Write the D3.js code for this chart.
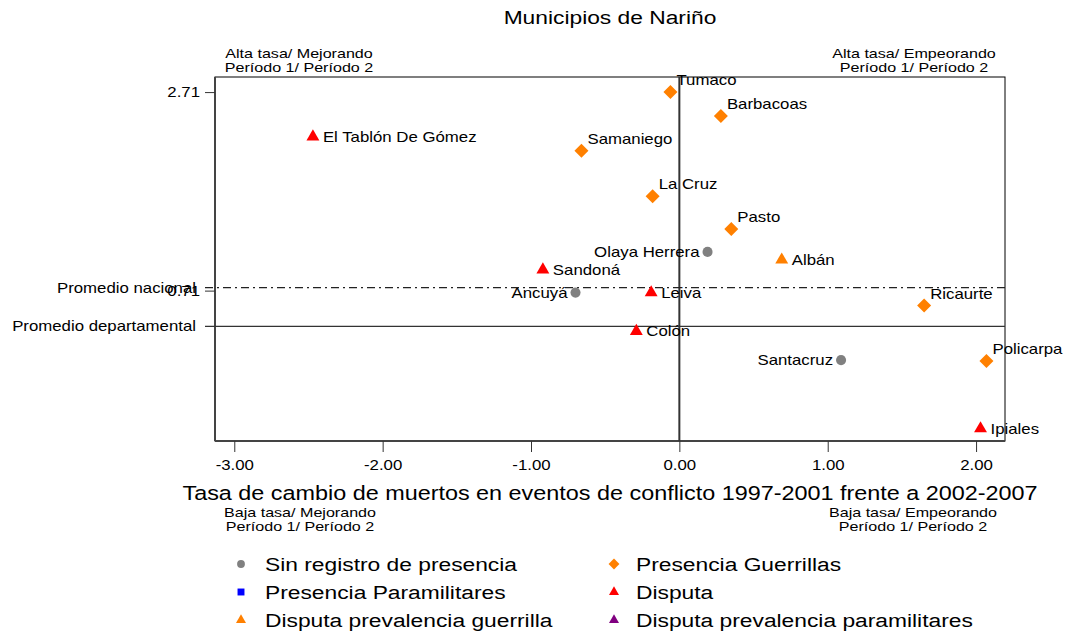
<!DOCTYPE html>
<html>
<head>
<meta charset="utf-8">
<title>Municipios de Nariño</title>
<style>
  body { margin: 0; background: #fff; }
  text { font-family: "Liberation Sans", Arial, sans-serif; fill: #000; }
</style>
</head>
<body>
<div id="chart"></div>
<script src="https://cdn.jsdelivr.net/npm/d3@7/dist/d3.min.js"></script>
<script>
// datos
var municipios = ['Tumaco', 'Barbacoas', 'El Tablón De Gómez', 'Samaniego', 'La Cruz', 'Pasto',
  'Olaya Herrera', 'Albán', 'Sandoná', 'Ancuyá', 'Leiva', 'Ricaurte', 'Colón', 'Santacruz',
  'Policarpa', 'Ipiales'];
var tasaCambio = [-0.06, 0.28, -2.47, -0.66, -0.18, 0.35, 0.19, 0.69, -0.92, -0.70, -0.19, 1.65, -0.29, 1.09, 2.07, 2.03];
var tasaMuertos = [2.71, 2.47, 2.26, 2.12, 1.66, 1.33, 1.10, 1.02, 0.92, 0.69, 0.69, 0.56, 0.30, 0.01, 0.00, -0.68];
var grupo = ['guerrilla', 'guerrilla', 'disputa', 'guerrilla', 'guerrilla', 'guerrilla', 'sin', 'dispGuerr',
  'disputa', 'sin', 'disputa', 'guerrilla', 'disputa', 'sin', 'guerrilla', 'disputa'];
// posicion de la etiqueta: ne = arriba derecha, e = derecha, w = izquierda
var posEtiqueta = ['ne', 'ne', 'e', 'ne', 'ne', 'ne', 'w', 'e', 'e', 'w', 'e', 'ne', 'e', 'w', 'ne', 'e'];

var xTicks = [-3, -2, -1, 0, 1, 2];
var yTicks = [2.71, 0.71];
var promedioNacional = 0.74, promedioDepartamental = 0.35;

var grupos = ['sin', 'guerrilla', 'para', 'disputa', 'dispGuerr', 'dispPara'];
var grupoNombres = ['Sin registro de presencia', 'Presencia Guerrillas', 'Presencia Paramilitares',
  'Disputa', 'Disputa prevalencia guerrilla', 'Disputa prevalencia paramilitares'];
var grupoColores = ['#808080', '#ff8000', '#0000ff', '#ff0000', '#ff8000', '#800080'];
var grupoFormas = ['circle', 'diamond', 'square', 'triangle', 'triangle', 'triangle'];

var W = 1066, H = 633;
var mLeft = 215, mRight = 1005, mTop = 77, mBottom = 441;
var SX = 1.2; // el texto del original esta estirado a lo ancho

var svg = d3.select('#chart').append('svg')
  .attr('width', W).attr('height', H);

var x = d3.scaleLinear().domain([-3.13, 2.195]).range([mLeft, mRight]);
var y = d3.scaleLinear().domain([-0.805, 2.862]).range([mBottom, mTop]);

var color = d3.scaleOrdinal().domain(grupos).range(grupoColores);
var forma = d3.scaleOrdinal().domain(grupos).range(grupoFormas);
var fmt = d => d3.format('.2f')(d).replace('−', '-');

function txt(parent, tx, ty, str, size, anchor) {
  return parent.append('text')
    .attr('transform', 'translate(' + tx + ',' + ty + ') scale(' + SX + ',1)')
    .attr('text-anchor', anchor || 'start')
    .style('font-size', size + 'px')
    .text(str);
}

function marker(sel, shape, k) {
  k = k || 1;
  if (shape == 'circle') {
    sel.attr('d', d3.symbol().type(d3.symbolCircle).size(80 * k));
  } else if (shape == 'diamond') {
    sel.attr('d', d3.symbol().type(d3.symbolSquare).size(98 * k)).attr('transform', 'rotate(45)');
  } else if (shape == 'square') {
    sel.attr('d', d3.symbol().type(d3.symbolSquare).size(80 * k));
  } else {
    sel.attr('d', d3.symbol().type(d3.symbolTriangle).size(72 * k));
  }
}

// titulo
txt(svg, 610, 24, 'Municipios de Nariño', 19, 'middle');

// marco
svg.append('rect').attr('x', mLeft).attr('y', mTop)
  .attr('width', mRight - mLeft).attr('height', mBottom - mTop)
  .attr('fill', 'none').attr('stroke', '#000').attr('stroke-width', 1);

// eje x
var xAxis = svg.append('g').attr('transform', 'translate(0,' + mBottom + ')')
  .call(d3.axisBottom(x).tickValues(xTicks).tickFormat(fmt).tickSize(11).tickPadding(8));
xAxis.select('.domain').attr('stroke', '#444').attr('stroke-width', 2).attr('d', 'M' + mLeft + ',0H' + mRight);
xAxis.selectAll('.tick line').attr('stroke', '#333');
xAxis.selectAll('.tick text').style('font-size', '14px').attr('fill', '#000')
  .style('font-family', '"Liberation Sans", Arial, sans-serif')
  .attr('transform', 'scale(' + SX + ',1)');

// eje y
var yAxis = svg.append('g').attr('transform', 'translate(' + mLeft + ',0)')
  .call(d3.axisLeft(y).tickValues(yTicks).tickFormat(fmt).tickSize(10).tickPadding(6));
yAxis.select('.domain').attr('stroke', '#444').attr('stroke-width', 2).attr('d', 'M0,' + mTop + 'V' + mBottom);
yAxis.selectAll('.tick line').attr('stroke', '#333');
yAxis.selectAll('.tick text').style('font-size', '14px').attr('fill', '#000')
  .style('font-family', '"Liberation Sans", Arial, sans-serif')
  .attr('x', -15 / SX)
  .attr('transform', 'scale(' + SX + ',1)');

// linea vertical en cero
svg.append('line')
  .attr('x1', x(0)).attr('x2', x(0)).attr('y1', mTop).attr('y2', mBottom)
  .attr('stroke', '#333').attr('stroke-width', 2);

// promedios
svg.append('line')
  .attr('x1', mLeft - 10).attr('x2', mRight).attr('y1', y(promedioNacional)).attr('y2', y(promedioNacional))
  .attr('stroke', '#222').attr('stroke-width', 1.3).attr('stroke-dasharray', '8,4,2,4');
svg.append('line')
  .attr('x1', mLeft - 10).attr('x2', mRight).attr('y1', y(promedioDepartamental)).attr('y2', y(promedioDepartamental))
  .attr('stroke', '#333').attr('stroke-width', 1.2);
txt(svg, 196, y(promedioNacional) + 5, 'Promedio nacional', 14, 'end');
txt(svg, 196, y(promedioDepartamental) + 5, 'Promedio departamental', 14, 'end');

// etiquetas de cuadrantes
function cuadrante(cx, cy, l1) {
  txt(svg, cx, cy, l1, 13.4, 'middle');
  txt(svg, cx, cy + 14, 'Período 1/ Período 2', 13.4, 'middle');
}
cuadrante(299, 58, 'Alta tasa/ Mejorando');
cuadrante(914, 58, 'Alta tasa/ Empeorando');
cuadrante(300, 517, 'Baja tasa/ Mejorando');
cuadrante(913, 517, 'Baja tasa/ Empeorando');

// titulo eje x
txt(svg, 610, 500, 'Tasa de cambio de muertos en eventos de conflicto 1997-2001 frente a 2002-2007', 19.5, 'middle');

// puntos
var idx = d3.range(municipios.length);
var pts = svg.append('g').selectAll('g').data(idx).join('g')
  .attr('transform', i => 'translate(' + x(tasaCambio[i]) + ',' + y(tasaMuertos[i]) + ')');
pts.append('path').each(function(i) { marker(d3.select(this), forma(grupo[i])); })
  .attr('fill', i => color(grupo[i]));
pts.each(function(i) {
  var p = posEtiqueta[i];
  txt(d3.select(this), p == 'w' ? -8 : (p == 'e' ? 10 : 6), p == 'ne' ? -7 : 5,
    municipios[i], 14, p == 'w' ? 'end' : 'start');
});

// leyenda
var leg = svg.append('g').selectAll('g').data(d3.range(grupos.length)).join('g')
  .attr('transform', i => 'translate(' + (i % 2 == 0 ? 241 : 614) + ',' + (564 + Math.floor(i / 2) * 28) + ')');
leg.append('path').each(function(i) { marker(d3.select(this), grupoFormas[i], 0.6); })
  .attr('fill', i => grupoColores[i]);
leg.each(function(i) {
  txt(d3.select(this), i % 2 == 0 ? 24 : 22, 7, grupoNombres[i], 19, 'start');
});
</script>
</body>
</html>
